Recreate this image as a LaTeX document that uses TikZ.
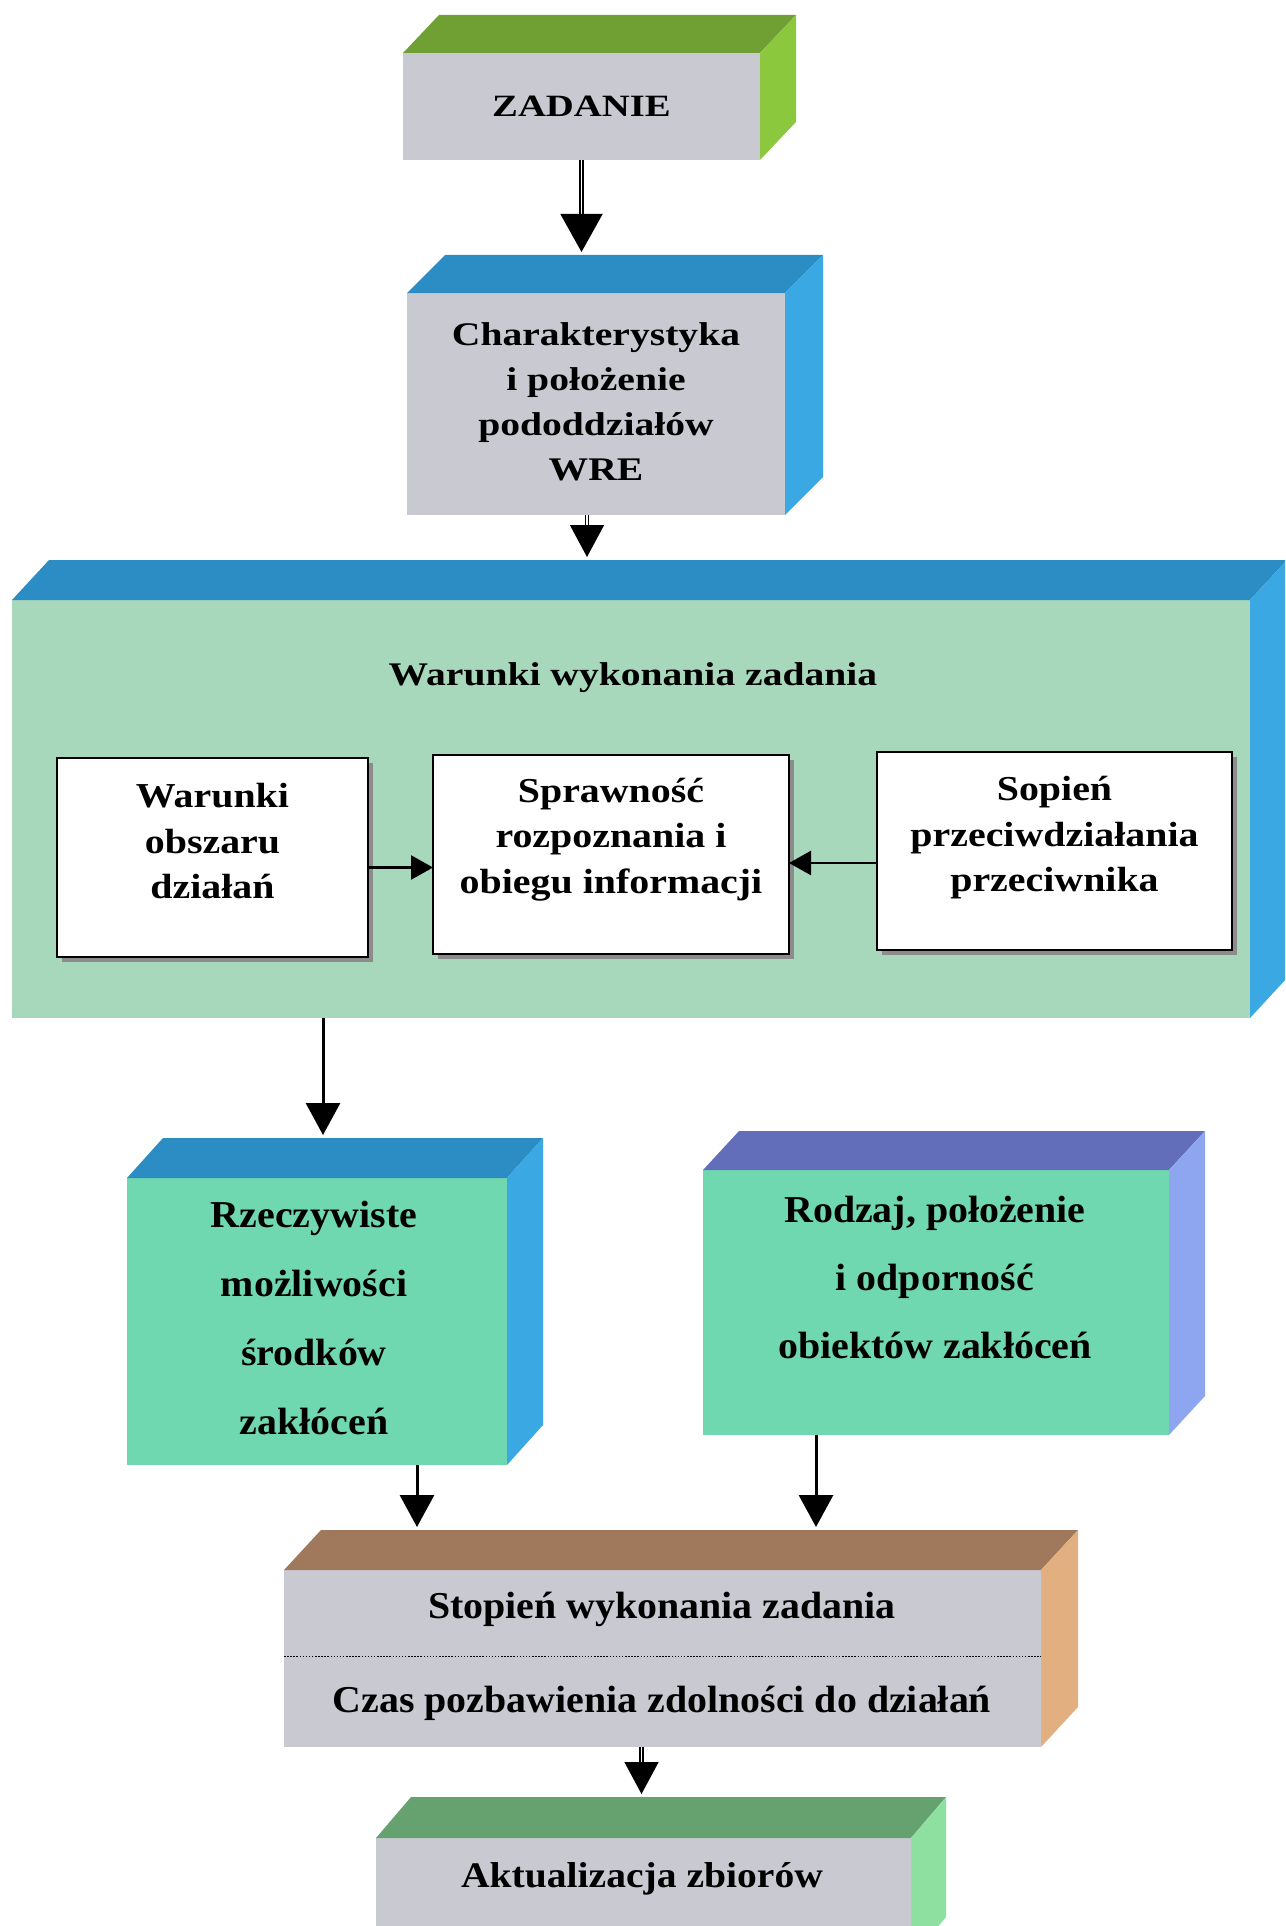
\documentclass[tikz,border=0pt]{standalone}
\usepackage{fontspec}
\setmainfont{Liberation Serif}
\newfontfamily\fzad{Liberation Serif}[FakeStretch=1.25]
\newfontfamily\fwide{Liberation Serif}[FakeStretch=1.2]
\newfontfamily\fmid{Liberation Serif}[FakeStretch=1.14]
\newfontfamily\fbot{Liberation Serif}[FakeStretch=1.1]
\newfontfamily\fnar{Liberation Serif}[FakeStretch=1.05]
\usetikzlibrary{arrows.meta,calc,shadows}

\definecolor{grayface}{RGB}{201,202,209}
\definecolor{zadtop}{RGB}{112,160,52}
\definecolor{zadside}{RGB}{140,200,62}
\definecolor{bluetop}{RGB}{44,140,196}
\definecolor{blueside}{RGB}{58,168,226}
\definecolor{mint}{RGB}{168,216,188}
\definecolor{aqua}{RGB}{112,216,176}
\definecolor{slatetop}{RGB}{98,110,186}
\definecolor{slateside}{RGB}{142,166,240}
\definecolor{browntop}{RGB}{160,120,92}
\definecolor{tanside}{RGB}{226,176,128}
\definecolor{greentop}{RGB}{102,162,112}
\definecolor{greenside}{RGB}{142,224,160}

% top and right faces of a block whose front face is node #1
% #2 top colour, #3 side colour, #4 depth in x, #5 depth in y
\newcommand\blockfaces[5]{%
  \fill[#2] (#1.north west) -- ++(#4,-#5) -- ($(#1.north east)+(#4,-#5)$) -- (#1.north east) -- cycle;
  \fill[#3] (#1.north east) -- ++(#4,-#5) -- ($(#1.south east)+(#4,-#5)$) -- (#1.south east) -- cycle;
  \coordinate (#1-top) at ($(#1.north)+(0,-#5)$);
}

\begin{document}
\begin{tikzpicture}[x=1pt,y=-1pt,
  front/.style={rectangle,inner sep=0pt,outer sep=0pt,anchor=north west,align=center,text=black},
  inbox/.style={front,fill=white,draw=black,line width=2.4pt,
    drop shadow={shadow xshift=5pt,shadow yshift=-5pt,fill=black!45,opacity=1}},
  label/.style={inner sep=0pt,align=center,text=black},
  zadfont/.style={font=\fzad\bfseries\fontsize{31}{37}\selectfont},
  widefont/.style={font=\fwide\bfseries\fontsize{33}{45}\selectfont},
  midfont/.style={font=\fmid\bfseries\fontsize{35}{45.5}\selectfont},
  narfont/.style={font=\fnar\bfseries\fontsize{38}{#1}\selectfont},
  botfont/.style={font=\fbot\bfseries\fontsize{36}{42}\selectfont},
  arr/.style={draw=black,line width=3pt,-{Triangle[length=32pt,width=34pt]},shorten >=3pt},
  darr/.style={arr,double=white,double distance=1.8pt,line width=1.4pt},
  sarr/.style={draw=black,line width=2.6pt,-{Triangle[length=22pt,width=24pt]}}
]
\path[use as bounding box] (0,0) rectangle (1285,1926);
\clip (0,0) rectangle (1285,1926);
\fill[white] (0,0) rectangle (1285,1926);

% task
\node[front,fill=grayface,minimum width=357pt,minimum height=107pt,zadfont] (z) at (403,53) {ZADANIE};
\blockfaces{z}{zadtop}{zadside}{36}{38}

% units
\node[front,fill=grayface,minimum width=378pt,minimum height=222pt] (c) at (407,293) {};
\blockfaces{c}{bluetop}{blueside}{38}{38}
\node[label,widefont] (ctx) at ($(c.center)+(0,-2)$) {Charakterystyka\\ i położenie\\ pododdziałów\\ WRE};

% conditions
\node[front,fill=mint,minimum width=1238pt,minimum height=418pt] (w) at (12,600) {};
\blockfaces{w}{bluetop}{blueside}{37}{40}
\node[label,widefont] (wt) at (633,678) {Warunki wykonania zadania};

\node[inbox,minimum width=311pt,minimum height=199pt] (a) at (57,758) {};
\node[inbox,minimum width=356pt,minimum height=199pt] (b) at (433,755) {};
\node[inbox,minimum width=355pt,minimum height=198pt] (cc) at (877,752) {};
\node[label,midfont] (at) at ($(a.center)+(0,-16)$) {Warunki\\ obszaru\\ działań};
\node[label,midfont] (bt) at ($(b.center)+(0,-15)$) {Sprawność\\ rozpoznania i\\ obiegu informacji};
\node[label,midfont] (ct) at ($(cc.center)+(0,-13)$) {Sopień\\ przeciwdziałania\\ przeciwnika};

% means and objects
\node[front,fill=aqua,minimum width=380pt,minimum height=287pt] (d) at (127,1178) {};
\blockfaces{d}{bluetop}{blueside}{36}{40}
\node[label,narfont=69] (dt) at ($(d.center)+(-3,-4)$) {Rzeczywiste\\ możliwości\\ środków\\ zakłóceń};

\node[front,fill=aqua,minimum width=466pt,minimum height=265pt] (e) at (703,1170) {};
\blockfaces{e}{slatetop}{slateside}{36}{39}
\node[label,narfont=68] (et) at (935,1277) {Rodzaj, położenie\\ i odporność\\ obiektów zakłóceń};

% results
\node[front,fill=grayface,minimum width=757pt,minimum height=177pt] (f) at (284,1570) {};
\blockfaces{f}{browntop}{tanside}{37}{40}
\draw[line width=1.5pt,dash pattern=on 1.5pt off 1.6pt] ($(f.west)+(0,-2)$) -- ($(f.east)+(0,-2)$);
\node[label,narfont=44] (f1) at (662,1609) {Stopień wykonania zadania};
\node[label,narfont=44] (f2) at (662,1703) {Czas pozbawienia zdolności do działań};

% update
\node[front,fill=grayface,minimum width=535pt,minimum height=120pt] (g) at (376,1838) {};
\blockfaces{g}{greentop}{greenside}{35}{41}
\node[label,botfont] (gt) at (642,1879) {Aktualizacja zbiorów};

% connectors
\draw[darr,-{Triangle[length=38pt,width=42pt]}] (z.south) -- (z.south |- c-top);
\draw[darr] ([xshift=-9pt]c.south) -- ([xshift=-9pt]c.south |- w-top);
\draw[sarr] ([yshift=-10pt]a.east) -- ([yshift=-10pt]a.east -| b.west);
\draw[sarr] ([yshift=-12pt]cc.west) -- ([yshift=-12pt]cc.west -| b.east);
\draw[arr] ([xshift=6pt]d.north |- w.south) -- ([xshift=6pt]d-top);
\draw[arr] ([xshift=100pt]d.south) -- ([xshift=100pt]d.south |- f-top);
\draw[arr] ([xshift=-120pt]e.south) -- ([xshift=-120pt]e.south |- f-top);
\draw[darr] ([xshift=-21pt]f.south) -- ([xshift=-21pt]f.south |- g-top);
\end{tikzpicture}
\end{document}
